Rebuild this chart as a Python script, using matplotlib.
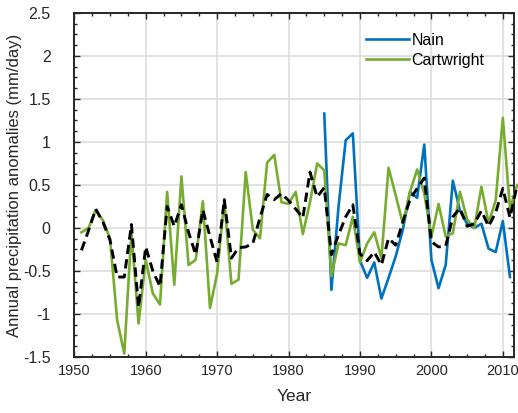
import matplotlib
matplotlib.use('Agg')
import matplotlib.pyplot as plt
from matplotlib.ticker import MultipleLocator, FormatStrFormatter

plt.rcParams['font.family'] = ['Liberation Sans', 'DejaVu Sans']
plt.rcParams['axes.unicode_minus'] = False

# data
years_cart = list(range(1951, 2013))
cartwright = [-0.05, 0.0, 0.21, 0.09, -0.12, -1.07, -1.46, -0.05, -1.11, -0.37,
              -0.76, -0.89, 0.42, -0.66, 0.60, -0.43, -0.37, 0.31, -0.93, -0.53,
              0.32, -0.65, -0.60, 0.65, -0.02, -0.12, 0.76, 0.85, 0.30, 0.28,
              0.42, -0.07, 0.30, 0.75, 0.67, -0.56, -0.18, -0.20, 0.13, -0.40,
              -0.18, -0.05, -0.35, 0.70, 0.38, 0.05, 0.42, 0.68, 0.40, -0.10,
              0.28, -0.10, -0.06, 0.42, 0.10, 0.00, 0.48, 0.06, 0.32, 1.28,
              0.22, 0.50]

years_nain = list(range(1985, 2012))
nain = [1.33, -0.72, 0.25, 1.02, 1.10, -0.38, -0.58, -0.40, -0.82, -0.58,
        -0.33, -0.02, 0.42, 0.35, 0.97, -0.37, -0.70, -0.43, 0.55, 0.20,
        0.05, 0.00, 0.05, -0.24, -0.28, 0.08, -0.57]

years_mean = list(range(1951, 2013))
mean_anom = [-0.26, -0.03, 0.22, 0.07, -0.14, -0.57, -0.57, 0.04, -0.92, -0.22,
             -0.50, -0.68, 0.25, 0.02, 0.27, -0.05, -0.31, 0.21, -0.10, -0.40,
             0.33, -0.35, -0.23, -0.22, -0.18, 0.12, 0.39, 0.33, 0.40, 0.32,
             0.22, 0.12, 0.65, 0.36, 0.47, -0.31, -0.08, 0.13, 0.27, -0.30,
             -0.38, -0.28, -0.43, -0.12, -0.20, 0.07, 0.33, 0.46, 0.58, -0.16,
             -0.22, -0.21, 0.13, 0.23, 0.02, 0.05, 0.20, 0.02, 0.18, 0.46,
             0.12, 0.50]

fig = plt.figure(figsize=(5.18, 4.13), dpi=100)
ax = fig.add_axes([0.1434, 0.1356, 0.848, 0.833])

ax.plot(years_nain, nain, color='#0072BD', lw=1.9, label='Nain', clip_on=False, zorder=3)
ax.plot(years_cart, cartwright, color='#77AC30', lw=1.9, label='Cartwright', clip_on=False, zorder=3)
ax.plot(years_mean, mean_anom, color='black', lw=2.1, ls=(0, (3.2, 1.8)), clip_on=False, zorder=4)

ax.set_xlim(1950, 2011.5)
ax.set_ylim(-1.5, 2.5)
ax.xaxis.set_major_locator(MultipleLocator(10))
ax.xaxis.set_minor_locator(MultipleLocator(2.5))
ax.yaxis.set_major_locator(MultipleLocator(0.5))
ax.yaxis.set_minor_locator(MultipleLocator(0.125))
ax.yaxis.set_major_formatter(FormatStrFormatter('%g'))

ax.grid(True, which='major', color='#dfdfdf', lw=1.3, zorder=0)
ax.set_axisbelow(True)
ax.tick_params(which='both', direction='in', top=True, right=True, colors='#262626',
               labelcolor='#262626', width=1.0)
ax.tick_params(which='major', length=4)
ax.tick_params(which='minor', length=2.5)
ax.tick_params(axis='y', which='major', pad=17, labelsize=11.5)
ax.tick_params(axis='x', which='major', pad=5, labelsize=10.5)
for s in ax.spines.values():
    s.set_linewidth(1.4)
    s.set_color('#262626')

ax.set_xlabel('Year', fontsize=12.5, color='#262626', labelpad=8)
ax.set_ylabel('Annual precipitation anomalies (mm/day)', fontsize=12, color='#262626')
ax.yaxis.set_label_coords(-0.118, 0.5)

ax.legend(loc='upper left', bbox_to_anchor=(0.664, 0.942), frameon=False, fontsize=11.5,
          handlelength=2.7, handletextpad=0.15, labelspacing=0.3, borderaxespad=0, borderpad=0)

plt.savefig('out.png', dpi=100)
